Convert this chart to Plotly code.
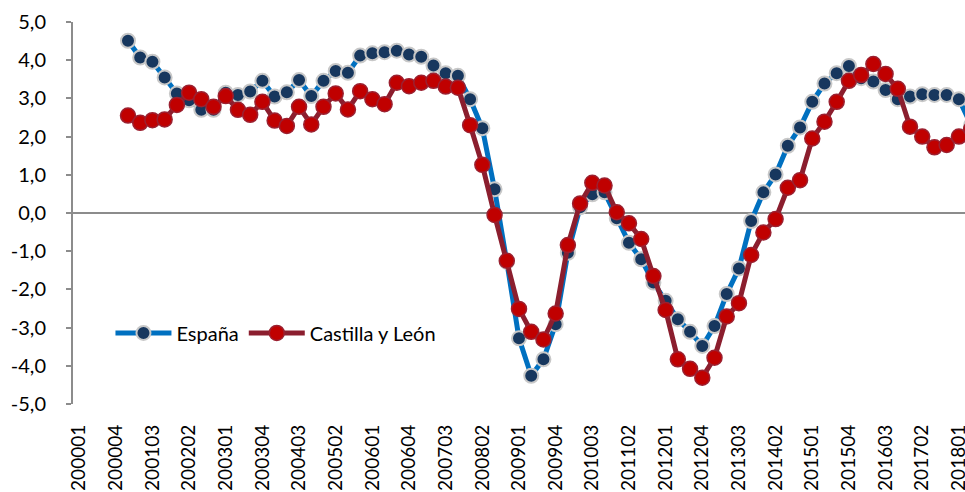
import plotly.graph_objects as go

# Quarter categories 200001 .. 201802
years = list(range(2000, 2019))
quarters = [f"{y}0{q}" for y in years for q in range(1, 5)][:74]

# Data starts at 200101
data_start = "200101"

espana = [4.51, 4.07, 3.96, 3.55, 3.13, 2.95, 2.70, 2.70, 3.15, 3.09,
          3.18, 3.46, 3.05, 3.16, 3.48, 3.06, 3.46, 3.72, 3.67, 4.12,
          4.18, 4.21, 4.25, 4.15, 4.09, 3.86, 3.66, 3.59, 2.98, 2.22,
          0.62, -1.28, -3.28, -4.26, -3.83, -2.91, -1.04, 0.15, 0.49, 0.54,
          -0.14, -0.78, -1.21, -1.82, -2.30, -2.78, -3.11, -3.48, -2.96, -2.12,
          -1.45, -0.21, 0.54, 1.01, 1.76, 2.24, 2.91, 3.39, 3.66, 3.85,
          3.53, 3.44, 3.22, 2.98, 3.05, 3.11, 3.09, 3.09, 2.98, 2.30]

cyl = [2.55, 2.36, 2.43, 2.45, 2.83, 3.15, 2.98, 2.78, 3.06, 2.70,
       2.57, 2.91, 2.42, 2.28, 2.78, 2.32, 2.78, 3.13, 2.71, 3.19,
       2.98, 2.85, 3.41, 3.32, 3.41, 3.46, 3.31, 3.28, 2.30, 1.26,
       -0.05, -1.25, -2.51, -3.11, -3.31, -2.63, -0.84, 0.25, 0.79, 0.72,
       0.02, -0.27, -0.68, -1.65, -2.54, -3.83, -4.08, -4.31, -3.79, -2.71,
       -2.36, -1.10, -0.51, -0.16, 0.66, 0.86, 1.95, 2.39, 2.91, 3.46,
       3.61, 3.90, 3.64, 3.25, 2.26, 2.00, 1.72, 1.78, 2.00, 2.20]

x_tick_labels = ["200001", "200004", "200103", "200202", "200301", "200304",
                 "200403", "200502", "200601", "200604", "200703", "200802",
                 "200901", "200904", "201003", "201102", "201201", "201204",
                 "201303", "201402", "201501", "201504", "201603", "201702",
                 "201801"]

y_tick_vals = [-5, -4, -3, -2, -1, 0, 1, 2, 3, 4, 5]
y_tick_text = ["-5,0", "-4,0", "-3,0", "-2,0", "-1,0", "0,0",
               "1,0", "2,0", "3,0", "4,0", "5,0"]

start = quarters.index(data_start)
x_data = quarters[start:start + len(espana)]

FONT = "Lato"

fig = go.Figure()
fig.add_trace(go.Scatter(
    x=x_data, y=espana, name="España", mode="lines+markers",
    line=dict(color="#0070C0", width=5),
    marker=dict(size=14, color="#17375E", line=dict(color="#C8C8C8", width=2)),
))
fig.add_trace(go.Scatter(
    x=x_data, y=cyl, name="Castilla y León", mode="lines+markers",
    line=dict(color="#8B1E2E", width=5),
    marker=dict(size=15, color="#C00000", line=dict(color="#9B2030", width=1.5)),
))

fig.update_layout(
    width=965, height=492,
    margin=dict(l=73, r=0, t=22, b=88),
    paper_bgcolor="white", plot_bgcolor="white",
    font=dict(family=FONT, size=20, color="#000000"),
    showlegend=True,
    legend=dict(
        orientation="h", x=0.042, y=0.186, xanchor="left", yanchor="middle",
        bgcolor="rgba(0,0,0,0)", font=dict(size=20), itemwidth=56,
        tracegroupgap=0,
    ),
    xaxis=dict(
        type="category", categoryorder="array", categoryarray=quarters,
        range=[-0.5, 72.5], automargin=False,
        tickmode="array", tickvals=x_tick_labels, ticktext=x_tick_labels,
        tickangle=-90, showgrid=False, showline=False, zeroline=False,
        ticks="", ticklabelstandoff=16, tickfont=dict(size=19),
    ),
    yaxis=dict(
        range=[-5, 5], tickmode="array", tickvals=y_tick_vals, ticktext=y_tick_text,
        automargin=False,
        showgrid=False, showline=True, linecolor="#8C8C8C", linewidth=2,
        ticks="outside", ticklen=5, tickcolor="#8C8C8C", tickwidth=2,
        zeroline=True, zerolinecolor="#8C8C8C", zerolinewidth=2,
        ticklabelstandoff=16, tickfont=dict(size=20),
    ),
)

fig.write_html(
    "out.html",
    config={"displayModeBar": False},
    post_script="document.body.style.margin='0';document.body.style.overflow='hidden';",
)
